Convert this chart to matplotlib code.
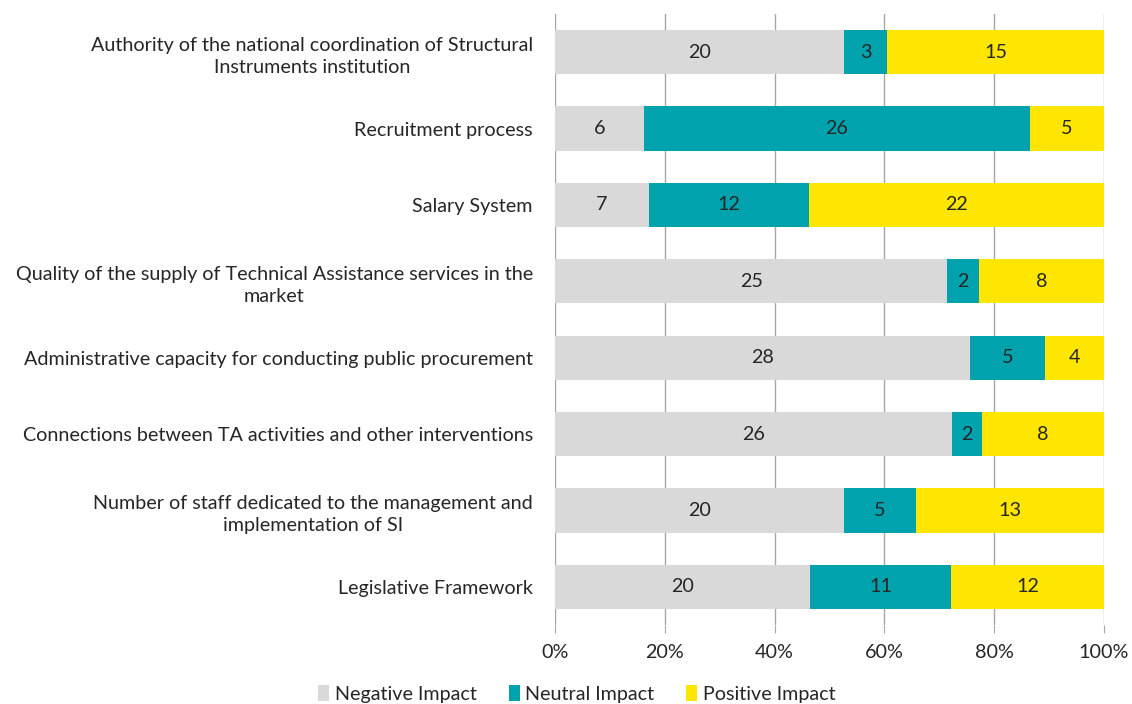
import matplotlib
matplotlib.use("Agg")
import matplotlib.pyplot as plt
import numpy as np

categories = [
    "Authority of the national coordination of Structural\nInstruments institution",
    "Recruitment process",
    "Salary System",
    "Quality of the supply of Technical Assistance services in the\nmarket",
    "Administrative capacity for conducting public procurement",
    "Connections between TA activities and other interventions",
    "Number of staff dedicated to the management and\nimplementation of SI",
    "Legislative Framework",
]
negative = [20, 6, 7, 25, 28, 26, 20, 20]
neutral = [3, 26, 12, 2, 5, 2, 5, 11]
positive = [15, 5, 22, 8, 4, 8, 13, 12]
series_names = ["Negative Impact", "Neutral Impact", "Positive Impact"]
colors = ["#d9d9d9", "#00a3ad", "#ffe600"]
xticks = [0, 0.2, 0.4, 0.6, 0.8, 1.0]
xticklabels = ["0%", "20%", "40%", "60%", "80%", "100%"]

plt.rcParams['font.family'] = ['Lato', 'DejaVu Sans']
FS = 14.2

fig = plt.figure(figsize=(11.32, 7.04), dpi=100)
ax = fig.add_axes([555/1132, 1 - 625/704, (1104-555)/1132, (625-14)/704])

data = np.array([negative, neutral, positive], dtype=float)
totals = data.sum(axis=0)
fracs = data / totals
y = np.arange(len(categories))
left = np.zeros(len(categories))
for i in range(3):
    bars = ax.barh(y, fracs[i], left=left, height=0.58, color=colors[i],
                   label=series_names[i], zorder=2)
    for j, b in enumerate(bars):
        ax.text(left[j] + fracs[i][j] / 2, y[j], str(int(data[i][j])),
                ha="center", va="center", fontsize=FS, color="#262626", zorder=3)
    left += fracs[i]

ax.set_xlim(0, 1)
ax.set_ylim(len(categories) - 0.5, -0.5)
ax.set_yticks(y)
ax.set_yticklabels(categories, fontsize=FS, color="#262626", ha="right")
ax.tick_params(axis="y", length=0, pad=16)
ax.set_xticks(xticks)
ax.set_xticklabels(xticklabels, fontsize=FS, color="#262626")
ax.tick_params(axis="x", length=6, color="#a6a6a6", pad=8, direction="out")
ax.grid(axis="x", color="#a6a6a6", linewidth=1, zorder=0)
for s in ["top", "right", "left", "bottom"]:
    ax.spines[s].set_visible(False)
for lab in ax.get_yticklabels():
    lab.set_multialignment("center")
    lab.set_linespacing(1.35)

handles, labels = ax.get_legend_handles_labels()
fig.legend(handles, labels, loc="center", bbox_to_anchor=(577/1132, 1 - 694/704),
           ncol=3, frameon=False, fontsize=FS, handlelength=0.55, handleheight=0.9,
           handletextpad=0.3, columnspacing=1.6, labelcolor="#262626")

fig.savefig("out.png", dpi=100)
